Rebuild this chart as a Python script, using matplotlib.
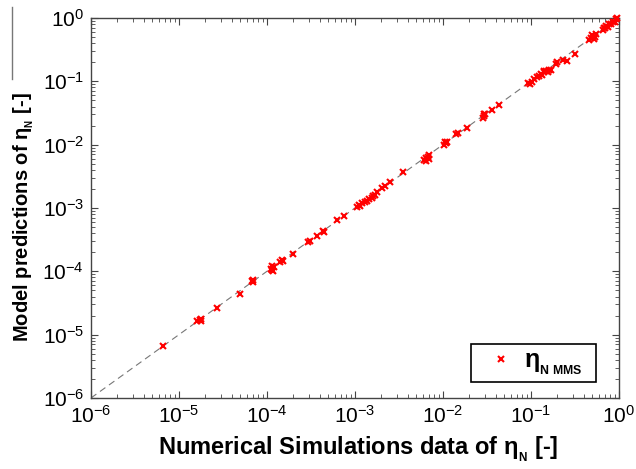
import matplotlib
matplotlib.use("Agg")
import matplotlib.pyplot as plt
from matplotlib.lines import Line2D
from matplotlib.ticker import LogLocator, NullFormatter

plt.rcParams['font.family'] = ['Liberation Sans', 'DejaVu Sans']
plt.rcParams['mathtext.fontset'] = 'custom'
plt.rcParams['mathtext.rm'] = 'Liberation Sans'

# Numerical simulation values (x) and model predictions (y)
sim_eta = [6.6e-6, 1.62e-5, 1.72e-5, 1.78e-5, 1.8e-5, 2.7e-5, 5.0e-5, 6.7e-5, 6.9e-5, 7.0e-5,
           1.12e-4, 1.15e-4, 1.18e-4, 1.2e-4, 1.13e-4, 1.42e-4, 1.48e-4, 1.52e-4, 2.0e-4,
           2.95e-4, 3.05e-4, 3.7e-4, 4.5e-4, 4.3e-4, 6.3e-4, 7.5e-4,
           1.05e-3, 1.1e-3, 1.15e-3, 1.2e-3, 1.3e-3, 1.38e-3, 1.45e-3, 1.55e-3, 1.62e-3, 1.7e-3,
           1.78e-3, 2.05e-3, 2.2e-3, 2.5e-3, 3.5e-3, 6.1e-3, 6.4e-3, 6.7e-3, 7.0e-3, 6.5e-3, 6.9e-3,
           1.02e-2, 1.08e-2, 1.12e-2, 1.05e-2, 1.4e-2, 1.5e-2, 1.87e-2, 2.85e-2, 2.95e-2, 3.0e-2,
           2.9e-2, 3.6e-2, 4.3e-2,
           9.3e-2, 9.8e-2, 1.02e-1, 1.1e-1, 1.18e-1, 1.25e-1, 1.3e-1, 1.35e-1, 1.42e-1, 1.48e-1,
           1.55e-1, 1.6e-1, 1.68e-1, 1.4e-1, 1.95e-1, 2.0e-1, 2.3e-1, 2.6e-1, 3.2e-1,
           4.6e-1, 4.8e-1, 5.0e-1, 5.3e-1, 5.5e-1, 5.2e-1, 6.6e-1, 7.0e-1, 7.5e-1, 7.8e-1, 8.2e-1,
           8.6e-1, 9.0e-1, 9.3e-1, 9.6e-1, 7.2e-1, 6.8e-1]
model_eta = [6.7e-6, 1.63e-5, 1.68e-5, 1.75e-5, 1.66e-5, 2.65e-5, 4.4e-5, 7.0e-5, 7.3e-5, 6.9e-5,
             1.1e-4, 1.2e-4, 1.02e-4, 1.15e-4, 1.06e-4, 1.42e-4, 1.5e-4, 1.45e-4, 1.86e-4,
             2.9e-4, 3.05e-4, 3.6e-4, 4.2e-4, 4.4e-4, 6.5e-4, 7.4e-4,
             1.05e-3, 1.12e-3, 1.08e-3, 1.18e-3, 1.25e-3, 1.3e-3, 1.38e-3, 1.45e-3, 1.55e-3, 1.6e-3,
             1.78e-3, 2.1e-3, 2.2e-3, 2.55e-3, 3.7e-3, 5.8e-3, 6.2e-3, 6.5e-3, 6.9e-3, 5.6e-3, 6.0e-3,
             9.8e-3, 1.05e-2, 1.1e-2, 1.12e-2, 1.45e-2, 1.55e-2, 1.85e-2, 2.6e-2, 2.8e-2, 3.0e-2,
             3.05e-2, 3.55e-2, 4.3e-2,
             9.4e-2, 9.2e-2, 9.8e-2, 1.1e-1, 1.15e-1, 1.2e-1, 1.3e-1, 1.25e-1, 1.38e-1, 1.45e-1,
             1.38e-1, 1.5e-1, 1.52e-1, 1.48e-1, 1.9e-1, 2.0e-1, 2.15e-1, 2.1e-1, 2.7e-1,
             4.5e-1, 4.8e-1, 5.3e-1, 5.0e-1, 5.6e-1, 4.6e-1, 6.5e-1, 7.0e-1, 7.3e-1, 7.9e-1, 8.0e-1,
             8.8e-1, 8.5e-1, 9.5e-1, 1.0, 7.6e-1, 6.9e-1]

axis_limits = [1e-6, 1.0]
series_label = r'η$_{_{\mathregular{N\ MMS}}}$  '
xlabel = r'Numerical Simulations data of η$_{_{\mathregular{N}}}$ [-]'
ylabel = r'Model predictions of η$_{_{\mathregular{N}}}$ [-]'

fig = plt.figure(figsize=(6.36, 4.69), dpi=100)
ax = fig.add_axes([0.143, 0.1514, 0.83, 0.8102])

ax.plot(axis_limits, axis_limits, linestyle=(0, (6, 4)), color='#777777', linewidth=0.8, zorder=1)
ax.plot(sim_eta, model_eta, linestyle='none', marker='x', color='red', markersize=4.5,
        markeredgewidth=1.5, clip_on=False, zorder=3, label=series_label)

ax.set_xscale('log')
ax.set_yscale('log')
ax.set_xlim(axis_limits)
ax.set_ylim(axis_limits)

for axis in (ax.xaxis, ax.yaxis):
    axis.set_major_locator(LogLocator(base=10, numticks=10))
    axis.set_minor_locator(LogLocator(base=10, subs=range(2, 10), numticks=100))
    axis.set_minor_formatter(NullFormatter())

spine_color = '#444444'
for s in ax.spines.values():
    s.set_color(spine_color)
    s.set_linewidth(1.0)
ax.tick_params(which='both', direction='in', top=True, right=True, colors=spine_color,
               labelcolor='black', labelsize=15)
ax.tick_params(which='major', length=5, width=0.8, pad=5)
ax.tick_params(which='minor', length=3, width=0.6)

ax.set_xlabel(xlabel, fontsize=17, fontweight='bold')
ax.xaxis.set_label_coords(0.507, -0.098)
ax.set_ylabel(ylabel, fontsize=14.5, fontweight='bold')
ax.yaxis.set_label_coords(-0.105, 0.475)

leg = ax.legend(loc='lower right', bbox_to_anchor=(0.957, 0.042), frameon=True, fancybox=False,
                edgecolor='black', prop={'weight': 'bold', 'size': 18},
                handlelength=2.0, handletextpad=-0.1, borderpad=0.2, borderaxespad=0,
                markerscale=1.1)
leg.get_frame().set_linewidth(1.2)
leg.get_frame().set_alpha(1)

# stray vertical rule at the left edge of the original figure
fig.add_artist(Line2D([12/636, 12/636], [1 - 7/469, 1 - 79/469], transform=fig.transFigure,
                      color='#777777', linewidth=1.0))

fig.savefig('out.png', dpi=100)
